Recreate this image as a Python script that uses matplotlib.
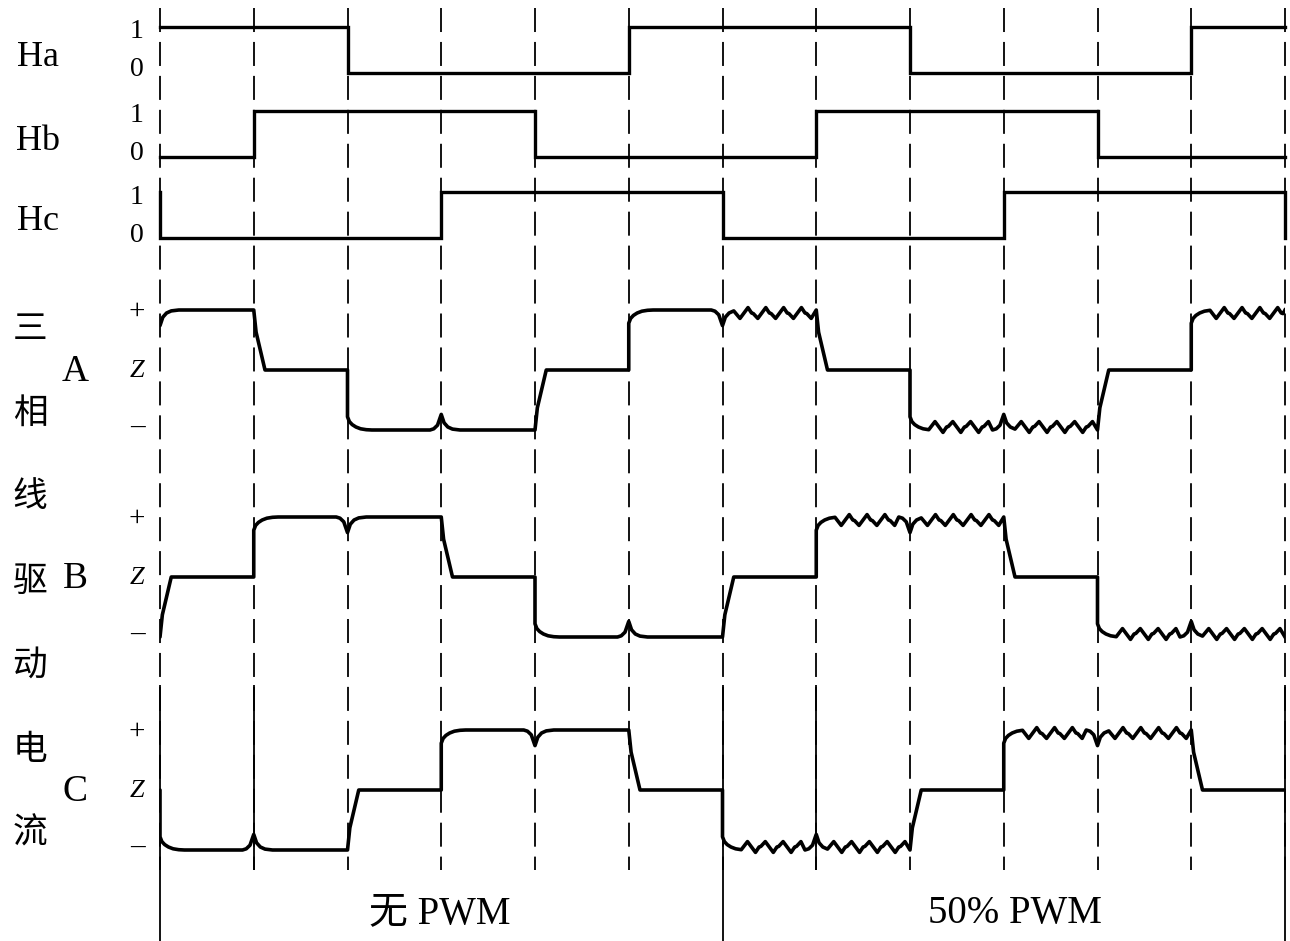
import matplotlib
matplotlib.use("Agg")
import matplotlib.pyplot as plt

# ---------------- data ----------------
sector_edges = list(range(0, 13))                 # 12 commutation sectors
pwm_sector = [0, 0, 0, 0, 0, 0, 1, 1, 1, 1, 1, 1]  # left half: no PWM, right half: 50% PWM

hall_names = ["Ha", "Hb", "Hc"]
Ha = [1, 1, 0, 0, 0, 1, 1, 1, 0, 0, 0, 1]
Hb = [0, 1, 1, 1, 0, 0, 0, 1, 1, 1, 0, 0]
Hc = [0, 0, 0, 1, 1, 1, 0, 0, 0, 1, 1, 1]
hall_before = [1, 0, 1]
hall_after = [1, 0, 0]
hall_tick_labels = ["1", "0"]

phase_names = ["A", "B", "C"]
A = [1, 0, -1, -1, 0, 1, 1, 0, -1, -1, 0, 1]
B = [0, 1, 1, 0, -1, -1, 0, 1, 1, 0, -1, -1]
C = [-1, -1, 0, 1, 1, 0, -1, -1, 0, 1, 1, 0]
phase_before = [1, -1, 0]
current_tick_labels = ["+", "Z", "\u2013"]
side_title = "三相线驱动电流"
section_labels = ["无 PWM", "50% PWM"]

# waveform shape templates (time in sectors, level in units of full current)
rise_dt = [0, 0, 0.02, 0.05, 0.09, 0.14, 0.2, 0.26]
rise_lv = [0, 0.78, 0.86, 0.91, 0.95, 0.98, 0.995, 1.0]
fall_dt = [0, 0.025, 0.12]
fall_lv = [1, 0.63, 0]
notch_dt = [-0.12, -0.08, -0.04, 0, 0.03, 0.07, 0.12, 0.2]
notch_lv = [1.0, 0.98, 0.92, 0.74, 0.88, 0.95, 0.985, 1.0]
ripple_phase = [0.0, 0.45, 0.65, 0.75]
ripple_lv = [0.86, 1.04, 0.95, 0.94]
ripple_period = 0.19

# ---------------- layout ----------------
W, H = 1290, 941
X0, X1 = 160, 1285
hall_zero_px = [73, 157, 238]
hall_amp_px = 46
phase_zero_px = [370, 577, 790]
phase_amp_px = 60
FONT = ["Liberation Serif", "Noto Sans CJK SC"]

fig = plt.figure(figsize=(W / 100, H / 100), dpi=100)
fig.patch.set_facecolor("white")


def band_axes(top_px, bot_px):
    ax = fig.add_axes([X0 / W, 1 - bot_px / H, (X1 - X0) / W, (bot_px - top_px) / H])
    ax.set_xlim(sector_edges[0], sector_edges[-1])
    ax.axis("off")
    return ax


# grid of commutation instants
bg = band_axes(0, H)
bg.set_ylim(H, 0)
lw_grid = 1.3
bg.vlines(sector_edges, 8, 870, colors="k", lw=lw_grid,
          linestyles=[(0, (13.3, 5.5))], clip_on=False)
bg.vlines([sector_edges[0], sector_edges[6], sector_edges[12]], 685, H,
          colors="k", lw=lw_grid, clip_on=False)
bg.vlines([sector_edges[1], sector_edges[7]], 685, 870,
          colors="k", lw=lw_grid, clip_on=False)

# hall signals
halls = [Ha, Hb, Hc]
for i, h in enumerate(halls):
    lo, hi = -0.4, 1.4
    top = hall_zero_px[i] - hi * hall_amp_px
    bot = hall_zero_px[i] - lo * hall_amp_px
    ax = band_axes(top, bot)
    ax.set_ylim(lo, hi)
    xs = [sector_edges[0]] + sector_edges
    ys = [hall_before[i]] + h + [hall_after[i]]
    ax.plot(xs, ys, drawstyle="steps-post", color="k", lw=2.4, clip_on=False,
            solid_joinstyle="miter")


# phase currents
def ripple(L, s, e):
    ts, ys = [], []
    m = 0
    while True:
        base = s + 0.35 * ripple_period + m * ripple_period
        if base >= e:
            break
        for ph, lv in zip(ripple_phase, ripple_lv):
            t = base + ph * ripple_period
            if t < e:
                ts.append(t)
                ys.append(L * lv)
        m += 1
    ts.append(e)
    ys.append(L * 1.0)
    return ts, ys


def build(levels, before):
    seq = [before] + list(levels)
    pw = [0] + list(pwm_sector)
    ts, ys = [sector_edges[0] - 1], [before]
    for j in range(len(seq)):
        t0 = sector_edges[0] - 1 + j
        L = seq[j]
        if j > 0:
            P = seq[j - 1]
            if L == 0 and P != 0:
                for dt, lv in zip(fall_dt, fall_lv):
                    ts.append(t0 + dt); ys.append(P * lv)
            elif L != 0 and P == 0:
                for dt, lv in zip(rise_dt, rise_lv):
                    if pw[j] and dt > 0.2:
                        break
                    ts.append(t0 + dt); ys.append(L * lv)
            elif L != 0 and P == L:
                for dt, lv in zip(notch_dt, notch_lv):
                    if pw[j] and dt > 0.12:
                        break
                    ts.append(t0 + dt); ys.append(L * lv)
        s = ts[-1]
        e = t0 + 1
        if j + 1 < len(seq) and seq[j + 1] == L and L != 0:
            e = t0 + 1 + notch_dt[0]
        if L != 0 and pw[j]:
            rt, ry = ripple(L, s, e)
            ts += rt; ys += ry
        else:
            ts.append(e); ys.append(L * (1.0 if L != 0 else 0))
    return ts, ys


phases = [A, B, C]
for i, ph in enumerate(phases):
    lo, hi = -1.35, 1.35
    top = phase_zero_px[i] - hi * phase_amp_px
    bot = phase_zero_px[i] - lo * phase_amp_px
    ax = band_axes(top, bot)
    ax.set_ylim(lo, hi)
    ts, ys = build(ph, phase_before[i])
    ax.plot(ts, ys, color="k", lw=2.6, solid_joinstyle="round", clip_on=True)


def ftext(px, py, s, size, **kw):
    fig.text(px / W, 1 - py / H, s, fontsize=size, family=FONT,
             ha="center", va="center", **kw)


for i, name in enumerate(hall_names):
    z = hall_zero_px[i]
    ftext(38, z - 16, name, 26)
    ftext(137, z - hall_amp_px + 5, hall_tick_labels[0], 20)
    ftext(137, z - 3, hall_tick_labels[1], 20)

for i, name in enumerate(phase_names):
    z = phase_zero_px[i]
    ftext(75, z + 2, name, 27)
    ftext(137, z - 58, current_tick_labels[0], 21)
    ftext(137, z + 1, current_tick_labels[1], 19, style="italic")
    ftext(137, z + 58, current_tick_labels[2], 21)

for k, ch in enumerate(side_title):
    ftext(30, 330 + 84 * k, ch, 25)

ftext(440, 914, section_labels[0], 28)
ftext(1015, 914, section_labels[1], 28)

fig.savefig("out.png", dpi=100, facecolor="white")
